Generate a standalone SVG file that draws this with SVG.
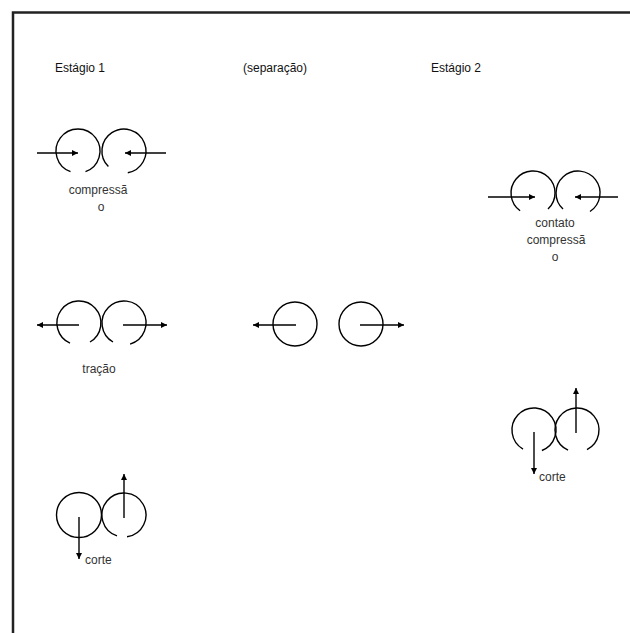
<svg xmlns="http://www.w3.org/2000/svg" width="630" height="633" viewBox="0 0 630 633">
<style>
.title{font-family:"Liberation Sans",Arial,sans-serif;font-size:12px;fill:#111}
.lbl{font-family:"Liberation Sans",Arial,sans-serif;font-size:12px;fill:#333}
.roll{fill:none;stroke:#000;stroke-width:1.4}
.arr{fill:none;stroke:#000;stroke-width:1.4;marker-end:url(#ah)}
.frame{fill:none;stroke:#222;stroke-width:2.5}
</style>
<defs>
<marker id="ah" markerUnits="userSpaceOnUse" markerWidth="8" markerHeight="8" refX="6" refY="3" orient="auto">
<path d="M0,0 L6,3 L0,6 z" fill="#000"/>
</marker>
</defs>
<rect width="630" height="633" fill="#fff"/>
<path class="frame" d="M13,633 V12.5 H630"/>
<g id="titles">
<text class="title" x="55" y="72">Estágio 1</text>
<text class="title" x="243" y="72">(separação)</text>
<text class="title" x="431" y="72">Estágio 2</text>
</g>
<g id="compressao1">
<path class="roll" d="M85.5 171.7 A22 22 0 1 0 70.5 171.7"/>
<path class="roll" d="M127.8 172.7 A22 22 0 1 0 108.4 166.6"/>
<text class="lbl" x="98" y="194" text-anchor="middle">compressã</text>
<text class="lbl" x="101" y="211" text-anchor="middle">o</text>
</g>
<g id="compressao2">
<path class="roll" d="M548 209.1 A22 22 0 1 0 520.1 210.8"/>
<path class="roll" d="M590 211.5 A22 22 0 1 0 563 209.1"/>
<text class="lbl" x="555" y="227" text-anchor="middle">contato</text>
<text class="lbl" x="556" y="244" text-anchor="middle">compressã</text>
<text class="lbl" x="555" y="261" text-anchor="middle">o</text>
</g>
<g id="tracao">
<path class="roll" d="M90 342 A22 22 0 1 0 70 343.1"/>
<path class="roll" d="M130.1 344.1 A22 22 0 1 0 113 342"/>
<text class="lbl" x="99" y="373" text-anchor="middle">tração</text>
</g>
<g id="separacao">
<circle class="roll" cx="295" cy="324" r="22"/>
<circle class="roll" cx="361" cy="324" r="22"/>
</g>
<g id="corte2">
<path class="roll" d="M541.9 450.5 A22 22 0 1 0 523 449.05"/>
<path class="roll" d="M587 449.6 A22 22 0 1 0 568.05 450.1"/>
<text class="lbl" x="539" y="481">corte</text>
</g>
<g id="corte1">
<circle class="roll" cx="79" cy="515" r="22.5"/>
<path class="roll" d="M127.06 536.8 A22 22 0 1 0 117 535.9"/>
<text class="lbl" x="85" y="564">corte</text>
</g>
<g id="connectors">
<line class="arr" x1="37" y1="153" x2="78" y2="153"/>
<line class="arr" x1="166" y1="153" x2="125" y2="153"/>
<line class="arr" x1="488" y1="197" x2="535" y2="197"/>
<line class="arr" x1="618" y1="197" x2="575" y2="197"/>
<line class="arr" x1="79" y1="325" x2="37" y2="325"/>
<line class="arr" x1="123" y1="325" x2="167" y2="325"/>
<line class="arr" x1="296" y1="325" x2="253" y2="325"/>
<line class="arr" x1="360" y1="325" x2="404" y2="325"/>
<line class="arr" x1="534" y1="432" x2="534" y2="474"/>
<line class="arr" x1="576" y1="433" x2="576" y2="388"/>
<line class="arr" x1="79" y1="517" x2="79" y2="559"/>
<line class="arr" x1="124" y1="518" x2="124" y2="474"/>
</g>
</svg>
